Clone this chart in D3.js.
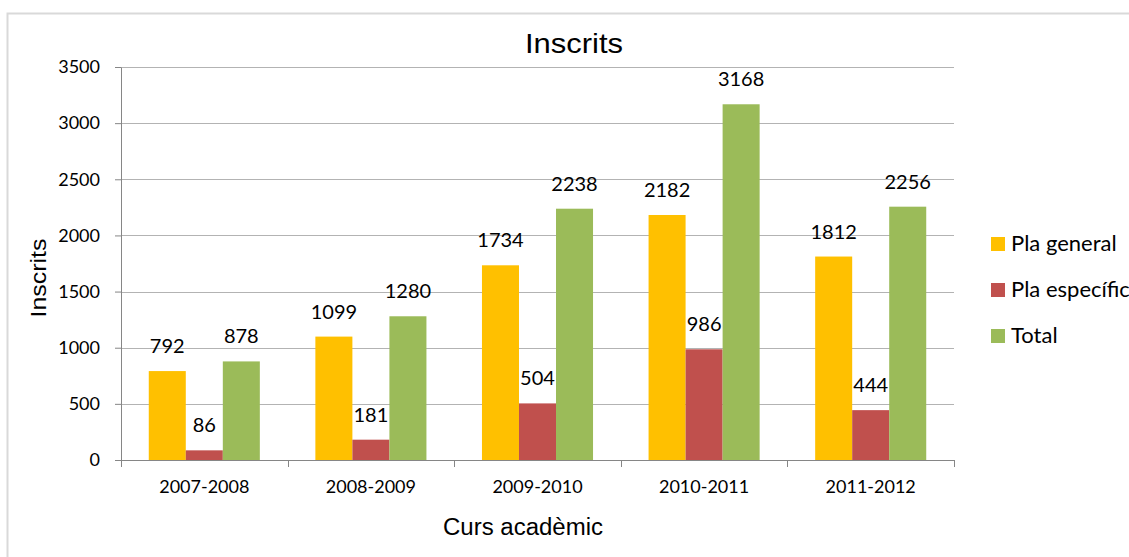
<!DOCTYPE html>
<html>
<head>
<meta charset="utf-8">
<script src="https://cdn.jsdelivr.net/npm/d3@7"></script>
<style>
  body { margin: 0; background: #fff; }
  svg text { fill: #000; }
</style>
</head>
<body>
<div id="chart"></div>
<script>
var years = ['2007-2008', '2008-2009', '2009-2010', '2010-2011', '2011-2012'];
var series = ['Pla general', 'Pla específic', 'Total'];
var plaGeneral = [792, 1099, 1734, 2182, 1812];
var plaEspecific = [86, 181, 504, 986, 444];
var total = [878, 1280, 2238, 3168, 2256];
var yTicks = [0, 500, 1000, 1500, 2000, 2500, 3000, 3500];
var colors = ['#ffc000', '#c0504d', '#9bbb59'];

var width = 1129,
	height = 557,
	margin = { top: 67, bottom: 97, left: 121, right: 175 },
	drawWidth = width - margin.left - margin.right,
	drawHeight = height - margin.top - margin.bottom;

var values = [plaGeneral, plaEspecific, total];
var labelFont = 'Lato, "Open Sans", sans-serif';
var titleFont = '"Liberation Sans", Arial, sans-serif';

var svg = d3.select('#chart').append('svg')
	.attr('width', width)
	.attr('height', height);

// outer frame
svg.append('rect')
	.attr('x', 7.5).attr('y', 13.5)
	.attr('width', 1140).attr('height', 560)
	.attr('fill', 'none')
	.attr('stroke', '#d9d9d9')
	.attr('stroke-width', 2);

var g = svg.append('g')
	.attr('transform', 'translate(' + margin.left + ',' + margin.top + ')');

var xScale = d3.scaleBand()
	.domain(years)
	.range([0, drawWidth]);

// gap width 150% like the original
var inner = d3.scaleBand()
	.domain(series)
	.range([0, xScale.bandwidth() * 3 / 4.5]);

var yScale = d3.scaleLinear()
	.domain([0, 3500])
	.range([drawHeight, 0]);

// gridlines
g.selectAll('.grid')
	.data(yTicks.slice(1))
	.enter().append('line')
	.attr('x1', 0).attr('x2', drawWidth)
	.attr('y1', function(d) { return Math.round(yScale(d)) + 0.5; })
	.attr('y2', function(d) { return Math.round(yScale(d)) + 0.5; })
	.attr('stroke', '#b3b3b3');

var offset = (xScale.bandwidth() - inner.range()[1]) / 2;

var groups = g.selectAll('.year')
	.data(years)
	.enter().append('g')
	.attr('transform', function(d) { return 'translate(' + (xScale(d) + offset) + ',0)'; });

var rows = function(d, i) {
	return series.map(function(s, j) { return { s: s, j: j, v: values[j][i] }; });
};

groups.selectAll('rect')
	.data(rows)
	.enter().append('rect')
	.attr('x', function(d) { return inner(d.s); })
	.attr('y', function(d) { return yScale(d.v); })
	.attr('width', inner.bandwidth())
	.attr('height', function(d) { return drawHeight - yScale(d.v); })
	.attr('fill', function(d) { return colors[d.j]; });

groups.selectAll('.lbl')
	.data(rows)
	.enter().append('text')
	.attr('x', function(d) { return inner(d.s) + inner.bandwidth() / 2; })
	.attr('y', function(d) { return yScale(d.v) - 18; })
	.attr('text-anchor', 'middle')
	.attr('font-family', labelFont)
	.attr('font-size', 20)
	.text(function(d) { return d.v; });

// y axis
var yAxis = d3.axisLeft(yScale).tickValues(yTicks).tickFormat(d3.format('d'))
	.tickSize(6).tickSizeOuter(0).tickPadding(15);
var yAxisG = g.append('g').call(yAxis);
yAxisG.select('.domain').attr('stroke', '#868686');
yAxisG.selectAll('line').attr('stroke', '#868686');
yAxisG.selectAll('text')
	.attr('font-family', labelFont)
	.attr('font-size', 18)
	.attr('fill', '#000');

// x axis
var xAxisG = g.append('g').attr('transform', 'translate(0,' + drawHeight + ')');
xAxisG.append('line')
	.attr('x1', 0).attr('x2', drawWidth)
	.attr('y1', 0.5).attr('y2', 0.5)
	.attr('stroke', '#868686');
xAxisG.selectAll('.tk')
	.data(years.concat(['end']))
	.enter().append('line')
	.attr('x1', function(d, i) { return Math.round(i * xScale.step()) + 0.5; })
	.attr('x2', function(d, i) { return Math.round(i * xScale.step()) + 0.5; })
	.attr('y1', 0).attr('y2', 7)
	.attr('stroke', '#868686');
xAxisG.selectAll('.xl')
	.data(years)
	.enter().append('text')
	.attr('x', function(d) { return xScale(d) + xScale.bandwidth() / 2; })
	.attr('y', 33)
	.attr('text-anchor', 'middle')
	.attr('font-family', labelFont)
	.attr('font-size', 18)
	.text(function(d) { return d; });

// titles
svg.append('text')
	.attr('x', 574).attr('y', 53)
	.attr('text-anchor', 'middle')
	.attr('font-family', titleFont)
	.attr('font-size', 28)
	.attr('textLength', 98)
	.attr('lengthAdjust', 'spacingAndGlyphs')
	.text('Inscrits');

svg.append('text')
	.attr('x', 523).attr('y', 535)
	.attr('text-anchor', 'middle')
	.attr('font-family', titleFont)
	.attr('font-size', 23)
	.attr('textLength', 160)
	.attr('lengthAdjust', 'spacingAndGlyphs')
	.text('Curs acadèmic');

svg.append('text')
	.attr('transform', 'translate(46,278) rotate(-90)')
	.attr('text-anchor', 'middle')
	.attr('font-family', titleFont)
	.attr('font-size', 22)
	.attr('textLength', 79)
	.attr('lengthAdjust', 'spacingAndGlyphs')
	.text('Inscrits');

// legend
var legend = svg.selectAll('.legend')
	.data(series)
	.enter().append('g')
	.attr('transform', function(d, i) { return 'translate(991,' + (237 + i * 46) + ')'; });
legend.append('rect')
	.attr('width', 14).attr('height', 14)
	.attr('fill', function(d, i) { return colors[i]; });
legend.append('text')
	.attr('x', 20).attr('y', 14)
	.attr('font-family', labelFont)
	.attr('font-size', 22)
	.text(function(d) { return d; });
</script>
</body>
</html>
